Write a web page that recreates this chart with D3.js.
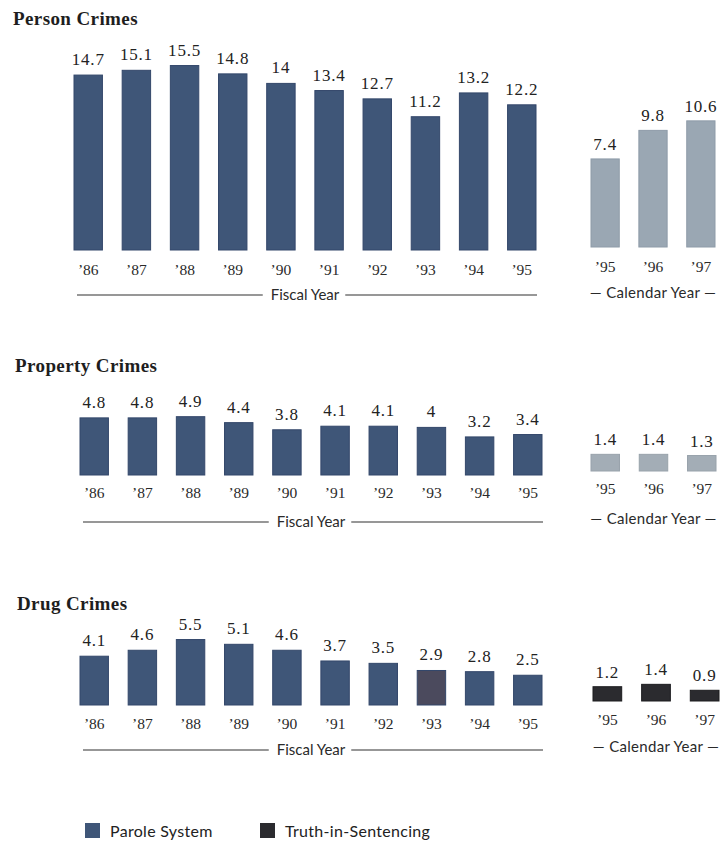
<!DOCTYPE html>
<html>
<head>
<meta charset="utf-8">
<script src="https://cdn.jsdelivr.net/npm/d3@7"></script>
<style>
  html, body { margin: 0; padding: 0; background: #ffffff; }
  svg { display: block; }
</style>
</head>
<body>
<div id="chart"></div>
<script>
// Average time served (years) by offense group
const fiscalYears = ["’86", "’87", "’88", "’89", "’90", "’91", "’92", "’93", "’94", "’95"];
const calendarYears = ["’95", "’96", "’97"];

const personFiscal = [14.7, 15.1, 15.5, 14.8, 14, 13.4, 12.7, 11.2, 13.2, 12.2];
const personCalendar = [7.4, 9.8, 10.6];

const propertyFiscal = [4.8, 4.8, 4.9, 4.4, 3.8, 4.1, 4.1, 4, 3.2, 3.4];
const propertyCalendar = [1.4, 1.4, 1.3];

const drugFiscal = [4.1, 4.6, 5.5, 5.1, 4.6, 3.7, 3.5, 2.9, 2.8, 2.5];
const drugCalendar = [1.2, 1.4, 0.9];

const panelTitles = ["Person Crimes", "Property Crimes", "Drug Crimes"];
const legendLabels = ["Parole System", "Truth-in-Sentencing"];

const W = 727, H = 842;
const svg = d3.select("#chart").append("svg").attr("width", W).attr("height", H);

const serif = "'Liberation Serif', 'DejaVu Serif', serif";
const sans = "Lato, 'Open Sans', sans-serif";

const BLUE = "#3f5678";
const BLUE_EDGE = "#33476a";
const TIS = "#2b2b2f";

// One height scale shared by every panel
const h = d3.scaleLinear().domain([0, 16]).range([0, 190.4]);

const panels = [
  { title: panelTitles[0], fiscal: personFiscal, calendar: personCalendar,
    titleX: 13, titleY: 25, base: 250, calBase: 247,
    fx: [74, 536], cx: [591, 715],
    calFill: "#9aa7b3", calEdge: "#8e9ba8", yearDy: 25, lineDy: 45 },
  { title: panelTitles[1], fiscal: propertyFiscal, calendar: propertyCalendar,
    titleX: 15, titleY: 372, base: 475, calBase: 471,
    fx: [80, 542], cx: [591, 716],
    calFill: "#a3adb6", calEdge: "#98a2ab", yearDy: 23, lineDy: 47 },
  { title: panelTitles[2], fiscal: drugFiscal, calendar: drugCalendar,
    titleX: 17, titleY: 610, base: 705, calBase: 701,
    fx: [80, 542], cx: [593, 719],
    calFill: TIS, calEdge: "#1c1c1f", yearDy: 24, lineDy: 45,
    odd: { index: 7, fill: "#4b4a5d" } }
];

panels.forEach(p => {
  const g = svg.append("g");

  g.append("text")
    .attr("x", p.titleX).attr("y", p.titleY)
    .attr("font-family", serif).attr("font-size", 19).attr("font-weight", "bold")
    .attr("letter-spacing", 0.4)
    .attr("fill", "#1e1e1e")
    .text(p.title);

  const xf = d3.scaleBand().domain(fiscalYears).range(p.fx).paddingInner(0.41).paddingOuter(0);
  const xc = d3.scaleBand().domain(calendarYears).range(p.cx).paddingInner(0.41).paddingOuter(0);

  // Fiscal year bars
  const fd = fiscalYears.map((k, i) => ({ k, v: p.fiscal[i], i }));
  g.selectAll(".fbar").data(fd).join("rect")
    .attr("x", d => xf(d.k))
    .attr("y", d => p.base - h(d.v))
    .attr("width", xf.bandwidth())
    .attr("height", d => h(d.v))
    .attr("fill", d => (p.odd && p.odd.index === d.i) ? p.odd.fill : BLUE)
    .attr("stroke", BLUE_EDGE).attr("stroke-width", 1);

  g.selectAll(".fval").data(fd).join("text")
    .attr("x", d => xf(d.k) + xf.bandwidth() / 2)
    .attr("y", d => p.base - h(d.v) - 10)
    .attr("text-anchor", "middle")
    .attr("font-family", serif).attr("font-size", 17).attr("letter-spacing", 0.8)
    .attr("fill", "#222")
    .text(d => String(d.v));

  g.selectAll(".fyear").data(fd).join("text")
    .attr("x", d => xf(d.k) + xf.bandwidth() / 2)
    .attr("y", p.base + p.yearDy)
    .attr("text-anchor", "middle")
    .attr("font-family", serif).attr("font-size", 15.5).attr("fill", "#2a2a2a")
    .text(d => d.k);

  // Calendar year bars
  const cd = calendarYears.map((k, i) => ({ k, v: p.calendar[i] }));
  g.selectAll(".cbar").data(cd).join("rect")
    .attr("x", d => xc(d.k))
    .attr("y", d => p.calBase - h(d.v))
    .attr("width", xc.bandwidth())
    .attr("height", d => h(d.v))
    .attr("fill", p.calFill)
    .attr("stroke", p.calEdge).attr("stroke-width", 1);

  g.selectAll(".cval").data(cd).join("text")
    .attr("x", d => xc(d.k) + xc.bandwidth() / 2)
    .attr("y", d => p.calBase - h(d.v) - 9)
    .attr("text-anchor", "middle")
    .attr("font-family", serif).attr("font-size", 17).attr("letter-spacing", 0.8)
    .attr("fill", "#222")
    .text(d => String(d.v));

  g.selectAll(".cyear").data(cd).join("text")
    .attr("x", d => xc(d.k) + xc.bandwidth() / 2)
    .attr("y", p.calBase + p.yearDy)
    .attr("text-anchor", "middle")
    .attr("font-family", serif).attr("font-size", 15.5).attr("fill", "#2a2a2a")
    .text(d => d.k);

  // Fiscal Year rule with centred caption
  const ly = p.base + p.lineDy;
  const cx = (p.fx[0] + p.fx[1]) / 2;
  const cap = g.append("text")
    .attr("x", cx).attr("y", ly + 5)
    .attr("text-anchor", "middle")
    .attr("font-family", sans).attr("font-size", 15).attr("fill", "#2a2a2a")
    .text("Fiscal Year");
  const bw = cap.node().getComputedTextLength();
  g.append("line")
    .attr("x1", p.fx[0] + 3).attr("x2", cx - bw / 2 - 8)
    .attr("y1", ly).attr("y2", ly)
    .attr("stroke", "#747474").attr("stroke-width", 1.5);
  g.append("line")
    .attr("x1", cx + bw / 2 + 6).attr("x2", p.fx[1] + 1)
    .attr("y1", ly).attr("y2", ly)
    .attr("stroke", "#747474").attr("stroke-width", 1.5);

  g.append("text")
    .attr("x", (p.cx[0] + p.cx[1]) / 2).attr("y", p.calBase + p.lineDy + 6)
    .attr("text-anchor", "middle")
    .attr("font-family", sans).attr("font-size", 15).attr("letter-spacing", 0.3)
    .attr("fill", "#2a2a2a")
    .text("— Calendar Year —");
});

// Legend
const legend = svg.append("g");
const legendItems = [
  { label: legendLabels[0], fill: BLUE, x: 85 },
  { label: legendLabels[1], fill: TIS, x: 260 }
];
legend.selectAll("rect").data(legendItems).join("rect")
  .attr("x", d => d.x).attr("y", 823)
  .attr("width", 15).attr("height", 15)
  .attr("fill", d => d.fill);
legend.selectAll("text").data(legendItems).join("text")
  .attr("x", d => d.x + 25).attr("y", 837)
  .attr("font-family", sans).attr("font-size", 16).attr("letter-spacing", 0.3)
  .attr("fill", "#222")
  .text(d => d.label);
</script>
</body>
</html>
